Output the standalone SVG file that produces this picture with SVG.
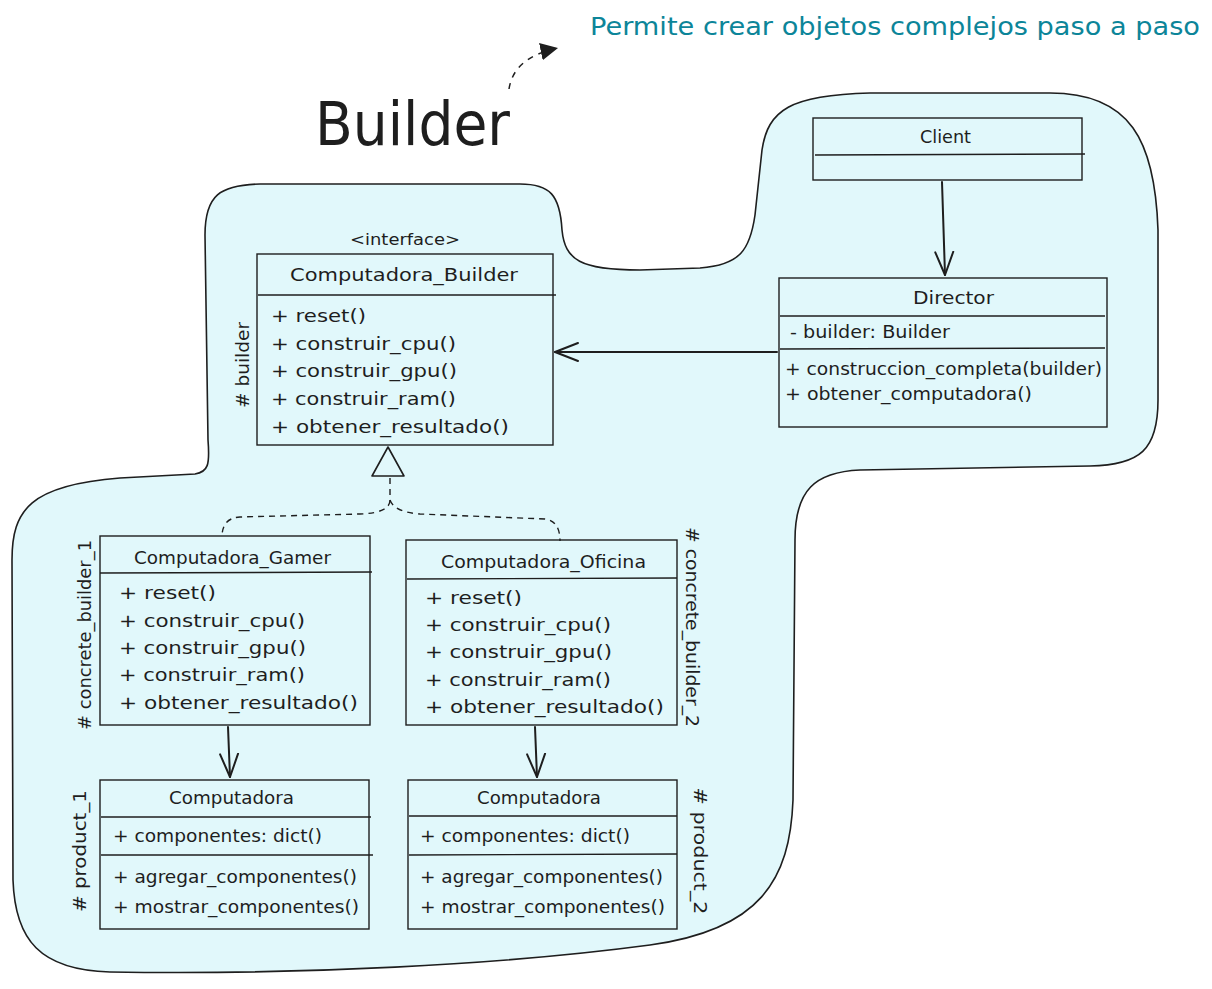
<svg xmlns="http://www.w3.org/2000/svg" width="1212" height="989" viewBox="0 0 1212 989">
<defs>
<style>
.t{font-family:"DejaVu Sans","Liberation Sans",sans-serif;fill:#1e1e1e}
.m{font-size:18px}
.h{font-size:17px}
.box{fill:none;stroke:#1e1e1e;stroke-width:1.4}
.div{stroke:#1e1e1e;stroke-width:1.4}
.c{fill:none;stroke:#1e1e1e;stroke-width:2;stroke-linecap:round}
</style>
<marker id="open" markerUnits="userSpaceOnUse" markerWidth="30" markerHeight="30" refX="24" refY="10" orient="auto" viewBox="0 0 30 20">
<path d="M1,1 L24,10 L1,19" fill="none" stroke="#1e1e1e" stroke-width="2" stroke-linecap="round" stroke-linejoin="round"/>
</marker>
<marker id="fill" markerUnits="userSpaceOnUse" markerWidth="20" markerHeight="20" refX="14" refY="7" orient="auto" viewBox="0 0 16 14">
<path d="M0,0 L14,7 L0,14 Z" fill="#1e1e1e"/>
</marker>
</defs>
<rect width="1212" height="989" fill="#ffffff"/>
<g id="background">
<path d="M205 235 C205 195 220 185 260 184 L520 184 C550 184 560 195 562 230 C565 260 580 270 640 270 L700 268 C740 265 750 250 755 215 L762 150 C768 110 790 95 870 93 L1050 93 C1130 93 1155 140 1158 230 L1158 400 C1158 450 1140 465 1090 466 L860 470 C815 472 795 490 795 540 L793 800 C790 880 760 930 650 945 C500 965 300 975 110 972 C40 970 15 940 13 880 L12 560 C12 510 30 485 120 478 L195 474 C208 472 210 465 208 440 Z" fill="#e1f8fb" stroke="#1e1e1e" stroke-width="1.6"/>
</g>
<g id="title">
<text class="t" x="315" y="145" font-size="60" textLength="195" lengthAdjust="spacingAndGlyphs">Builder</text>
</g>
<g id="annotation">
<text x="590" y="35" font-family="DejaVu Sans, Liberation Sans, sans-serif" font-size="25" fill="#0c8599" textLength="610" lengthAdjust="spacingAndGlyphs">Permite crear objetos complejos paso a paso</text>
</g>
<g id="connectors">
<path d="M509 89 C512 70 525 55 558 48" fill="none" stroke="#1e1e1e" stroke-width="1.5" stroke-dasharray="6 6" marker-end="url(#fill)"/>
<path class="c" d="M942 182 L945 275" marker-end="url(#open)"/>
<path class="c" d="M777 352 L555 352" marker-end="url(#open)"/>
<path class="c" d="M228 727 L230 777" marker-end="url(#open)"/>
<path class="c" d="M535 727 L537 777" marker-end="url(#open)"/>
<path d="M388 447 L372 476 L404 476 Z" fill="none" stroke="#1e1e1e" stroke-width="1.6" stroke-linejoin="round"/>
<path d="M390 478 L390 500 Q390 513 360 514 L240 517 Q222 518 222 537" fill="none" stroke="#1e1e1e" stroke-width="1.4" stroke-dasharray="6 5"/>
<path d="M390 500 Q394 512 420 514 L545 519 Q560 521 560 541" fill="none" stroke="#1e1e1e" stroke-width="1.4" stroke-dasharray="6 5"/>
</g>
<g id="client">
<rect class="box" x="813" y="118" width="269" height="62"/>
<line class="div" x1="815" y1="155" x2="1085" y2="154"/>
<text class="t h" x="945.5" y="143" text-anchor="middle" textLength="51" lengthAdjust="spacingAndGlyphs">Client</text>
</g>
<g id="director">
<rect class="box" x="779" y="278" width="328" height="149"/>
<line class="div" x1="780" y1="316" x2="1105" y2="316"/>
<line class="div" x1="780" y1="349" x2="1105" y2="348"/>
<text class="t h" x="953.5" y="304" text-anchor="middle" textLength="81" lengthAdjust="spacingAndGlyphs">Director</text>
<text class="t h" x="790" y="338" textLength="160" lengthAdjust="spacingAndGlyphs">- builder: Builder</text>
<text class="t h" x="785" y="375" textLength="317" lengthAdjust="spacingAndGlyphs">+ construccion_completa(builder)</text>
<text class="t h" x="785" y="400" textLength="247" lengthAdjust="spacingAndGlyphs">+ obtener_computadora()</text>
</g>
<g id="computadora_builder">
<text class="t" x="405" y="245" font-size="15" text-anchor="middle" textLength="110" lengthAdjust="spacingAndGlyphs">&lt;interface&gt;</text>
<rect class="box" x="257" y="254" width="296" height="191"/>
<line class="div" x1="258" y1="295" x2="556" y2="295"/>
<text class="t m" x="404" y="281" text-anchor="middle" textLength="228" lengthAdjust="spacingAndGlyphs">Computadora_Builder</text>
<text class="t m" x="271" y="322" textLength="95" lengthAdjust="spacingAndGlyphs">+ reset()</text>
<text class="t m" x="271" y="350" textLength="185" lengthAdjust="spacingAndGlyphs">+ construir_cpu()</text>
<text class="t m" x="271" y="377" textLength="186" lengthAdjust="spacingAndGlyphs">+ construir_gpu()</text>
<text class="t m" x="271" y="405" textLength="185" lengthAdjust="spacingAndGlyphs">+ construir_ram()</text>
<text class="t m" x="271" y="433" textLength="238" lengthAdjust="spacingAndGlyphs">+ obtener_resultado()</text>
<text class="t m" transform="translate(249 365) rotate(-90)" text-anchor="middle" textLength="86" lengthAdjust="spacingAndGlyphs"># builder</text>
</g>
<g id="computadora_gamer">
<rect class="box" x="100" y="536" width="270" height="189"/>
<line class="div" x1="100" y1="573" x2="372" y2="572"/>
<text class="t h" x="232.5" y="564" text-anchor="middle" textLength="197" lengthAdjust="spacingAndGlyphs">Computadora_Gamer</text>
<text class="t m" x="119" y="599" textLength="97" lengthAdjust="spacingAndGlyphs">+ reset()</text>
<text class="t m" x="119" y="627" textLength="186" lengthAdjust="spacingAndGlyphs">+ construir_cpu()</text>
<text class="t m" x="119" y="654" textLength="187" lengthAdjust="spacingAndGlyphs">+ construir_gpu()</text>
<text class="t m" x="119" y="681" textLength="186" lengthAdjust="spacingAndGlyphs">+ construir_ram()</text>
<text class="t m" x="119" y="709" textLength="239" lengthAdjust="spacingAndGlyphs">+ obtener_resultado()</text>
<text class="t m" transform="translate(91 635) rotate(-90)" text-anchor="middle" textLength="190" lengthAdjust="spacingAndGlyphs"># concrete_builder_1</text>
</g>
<g id="computadora_oficina">
<rect class="box" x="406" y="540" width="271" height="185"/>
<line class="div" x1="407" y1="579" x2="677" y2="578"/>
<text class="t h" x="543.5" y="568" text-anchor="middle" textLength="205" lengthAdjust="spacingAndGlyphs">Computadora_Oficina</text>
<text class="t m" x="425" y="604" textLength="97" lengthAdjust="spacingAndGlyphs">+ reset()</text>
<text class="t m" x="425" y="631" textLength="186" lengthAdjust="spacingAndGlyphs">+ construir_cpu()</text>
<text class="t m" x="425" y="658" textLength="187" lengthAdjust="spacingAndGlyphs">+ construir_gpu()</text>
<text class="t m" x="425" y="686" textLength="186" lengthAdjust="spacingAndGlyphs">+ construir_ram()</text>
<text class="t m" x="425" y="713" textLength="239" lengthAdjust="spacingAndGlyphs">+ obtener_resultado()</text>
<text class="t m" transform="translate(686 627) rotate(90)" text-anchor="middle" textLength="200" lengthAdjust="spacingAndGlyphs"># concrete_builder_2</text>
</g>
<g id="computadora_1">
<rect class="box" x="100" y="780" width="269" height="149"/>
<line class="div" x1="101" y1="817" x2="371" y2="817"/>
<line class="div" x1="101" y1="855" x2="373" y2="855"/>
<text class="t h" x="231.5" y="804" text-anchor="middle" textLength="125" lengthAdjust="spacingAndGlyphs">Computadora</text>
<text class="t h" x="113" y="842" textLength="209" lengthAdjust="spacingAndGlyphs">+ componentes: dict()</text>
<text class="t h" x="113" y="883" textLength="244" lengthAdjust="spacingAndGlyphs">+ agregar_componentes()</text>
<text class="t h" x="113" y="913" textLength="246" lengthAdjust="spacingAndGlyphs">+ mostrar_componentes()</text>
<text class="t m" transform="translate(86 851) rotate(-90)" text-anchor="middle" textLength="122" lengthAdjust="spacingAndGlyphs"># product_1</text>
</g>
<g id="computadora_2">
<rect class="box" x="408" y="780" width="269" height="149"/>
<line class="div" x1="409" y1="816" x2="677" y2="816"/>
<line class="div" x1="409" y1="855" x2="677" y2="854"/>
<text class="t h" x="539" y="804" text-anchor="middle" textLength="124" lengthAdjust="spacingAndGlyphs">Computadora</text>
<text class="t h" x="420" y="842" textLength="210" lengthAdjust="spacingAndGlyphs">+ componentes: dict()</text>
<text class="t h" x="420" y="883" textLength="243" lengthAdjust="spacingAndGlyphs">+ agregar_componentes()</text>
<text class="t h" x="420" y="913" textLength="245" lengthAdjust="spacingAndGlyphs">+ mostrar_componentes()</text>
<text class="t m" transform="translate(694 851) rotate(90)" text-anchor="middle" textLength="127" lengthAdjust="spacingAndGlyphs"># product_2</text>
</g>
</svg>
